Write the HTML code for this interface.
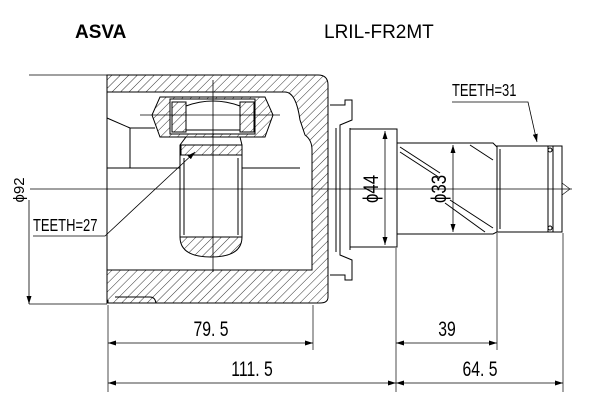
<!DOCTYPE html>
<html><head><meta charset="utf-8"><style>
html,body{margin:0;padding:0;background:#fff;}
svg{display:block;}
text{font-family:"Liberation Sans",sans-serif;fill:#000;}
</style></head><body>
<svg width="600" height="400" viewBox="0 0 600 400" xmlns="http://www.w3.org/2000/svg">
<defs>
<pattern id="h" patternUnits="userSpaceOnUse" width="6" height="6" patternTransform="rotate(45)">
<rect width="6" height="6" fill="#fff"/><line x1="0" y1="0" x2="0" y2="6" stroke="#000" stroke-width="0.8"/>
</pattern>
<marker id="a" markerWidth="8" markerHeight="6" refX="8" refY="3" orient="auto-start-reverse" markerUnits="userSpaceOnUse"><path d="M0,0.5 L8,3 L0,5.5 z" fill="#000"/></marker>
</defs>
<text x="75" y="38" font-size="19" font-weight="bold">ASVA</text>
<text x="324" y="38" font-size="19">LRIL-FR2MT</text>

<g stroke="#000" stroke-width="1" fill="none">
<path d="M107,75 L318,75 Q328,75 328,85 L328,297 Q328,303 320,303 L107,303 L107,270 L312,270 L312,150 Q312,140 305,135 L300,120 Q296,92 285,92 L107,92 Z" fill="url(#h)"/>
<line x1="107" y1="92" x2="107" y2="270"/>
<path d="M107,118 L130,128 L130,168 L107,168"/>
<line x1="130" y1="128" x2="155" y2="128"/>
<line x1="130" y1="168" x2="300" y2="168"/>
<path d="M108,303 L108,300 M115,297 L150,297 Q155,297 156,303"/>
<path d="M160,97 L265,97 L273,115 L265,137 L160,137 L152,115 Z" fill="url(#h)"/>
<rect x="170" y="99" width="85" height="35" fill="#fff"/>
<rect x="172" y="102" width="14" height="30" fill="url(#h)"/>
<rect x="240" y="102" width="14" height="30" fill="url(#h)"/>
<path d="M186,106 Q213,96 240,106 L240,130 L186,130 Z" fill="#fff"/>
<path d="M186,137 L240,137 L242,145 L242,237 L180,237 L180,145 L186,137 Z" fill="#fff"/>
<rect x="181" y="145" width="61" height="10" fill="url(#h)"/>
<path d="M180,237 L242,237 Q242,257 211,257 Q180,257 180,237 Z" fill="url(#h)"/>
<line x1="184" y1="158" x2="184" y2="235"/>
<line x1="238" y1="158" x2="238" y2="235"/>
<path d="M330,105 L345,105 L345,100 L352,100 L352,120 L340,125 L340,255 L352,260 L352,280 L345,280 L345,275 L330,275"/>
<line x1="336" y1="128" x2="336" y2="252"/>
<line x1="350" y1="128" x2="350" y2="250"/>
<path d="M350,129 L397,129 L397,247 L350,247"/>
<path d="M397,143 L493,143 L497,147 L497,232 L493,234 L397,234"/>
<line x1="400" y1="147" x2="440" y2="173"/><line x1="400" y1="152" x2="440" y2="178"/>
<line x1="450" y1="200" x2="493" y2="228"/><line x1="445" y1="203" x2="485" y2="232"/>
<line x1="470" y1="145" x2="493" y2="160"/>
<rect x="497" y="146" width="51" height="86"/>
<line x1="500" y1="149" x2="500" y2="229"/>
<rect x="548" y="146" width="14" height="86"/>
<line x1="553" y1="146" x2="553" y2="232"/>
<circle cx="550" cy="150" r="2"/><circle cx="550" cy="228" r="2"/>
<line x1="30" y1="189" x2="572" y2="189" stroke-width="0.8"/>
<line x1="213" y1="80" x2="213" y2="272" stroke-width="0.8"/>
<line x1="140" y1="115" x2="280" y2="115" stroke-width="0.8"/>
<path d="M562,183 L570,189 L562,195" stroke-width="0.6"/>
<line x1="29" y1="75" x2="107" y2="75" stroke-width="0.7"/>
<line x1="29" y1="304" x2="107" y2="304" stroke-width="0.7"/>
<line x1="29" y1="200" x2="29" y2="304" marker-end="url(#a)" stroke-width="0.8"/>
<path d="M33,236 L105,236 L195,152" stroke-width="0.8" marker-end="url(#a)"/>
<path d="M452,102 L528,102 L537,142" stroke-width="0.8" marker-end="url(#a)"/>
<line x1="385" y1="131" x2="385" y2="245" marker-start="url(#a)" marker-end="url(#a)" stroke-width="0.8"/>
<line x1="453" y1="145" x2="453" y2="232" marker-start="url(#a)" marker-end="url(#a)" stroke-width="0.8"/>
<line x1="108" y1="305" x2="108" y2="392" stroke-width="0.7"/>
<line x1="313" y1="305" x2="313" y2="350" stroke-width="0.7"/>
<line x1="396" y1="248" x2="396" y2="392" stroke-width="0.7"/>
<line x1="497" y1="233" x2="497" y2="350" stroke-width="0.7"/>
<line x1="563" y1="233" x2="563" y2="392" stroke-width="0.7"/>
<line x1="108" y1="343" x2="313" y2="343" marker-start="url(#a)" marker-end="url(#a)" stroke-width="0.8"/>
<line x1="396" y1="343" x2="497" y2="343" marker-start="url(#a)" marker-end="url(#a)" stroke-width="0.8"/>
<line x1="108" y1="383" x2="396" y2="383" marker-start="url(#a)" marker-end="url(#a)" stroke-width="0.8"/>
<line x1="396" y1="383" x2="563" y2="383" marker-start="url(#a)" marker-end="url(#a)" stroke-width="0.8"/>
</g>

<g font-size="21">
<text transform="translate(33,231) scale(0.72,1)" font-size="18">TEETH=27</text>
<text transform="translate(452,96) scale(0.72,1)" font-size="18">TEETH=31</text>
<text transform="translate(24,190) rotate(-90)" font-size="15" text-anchor="middle">ϕ92</text>
<text transform="translate(378,189) rotate(-90) scale(0.8,1)" text-anchor="middle">ϕ44</text>
<text transform="translate(446,189) rotate(-90) scale(0.8,1)" text-anchor="middle">ϕ33</text>
<text transform="translate(211,336) scale(0.75,1)" text-anchor="middle">79. 5</text>
<text transform="translate(447,336) scale(0.75,1)" text-anchor="middle">39</text>
<text transform="translate(252,376) scale(0.75,1)" text-anchor="middle">111. 5</text>
<text transform="translate(480,376) scale(0.75,1)" text-anchor="middle">64. 5</text>
</g>
</svg>
</body></html>
